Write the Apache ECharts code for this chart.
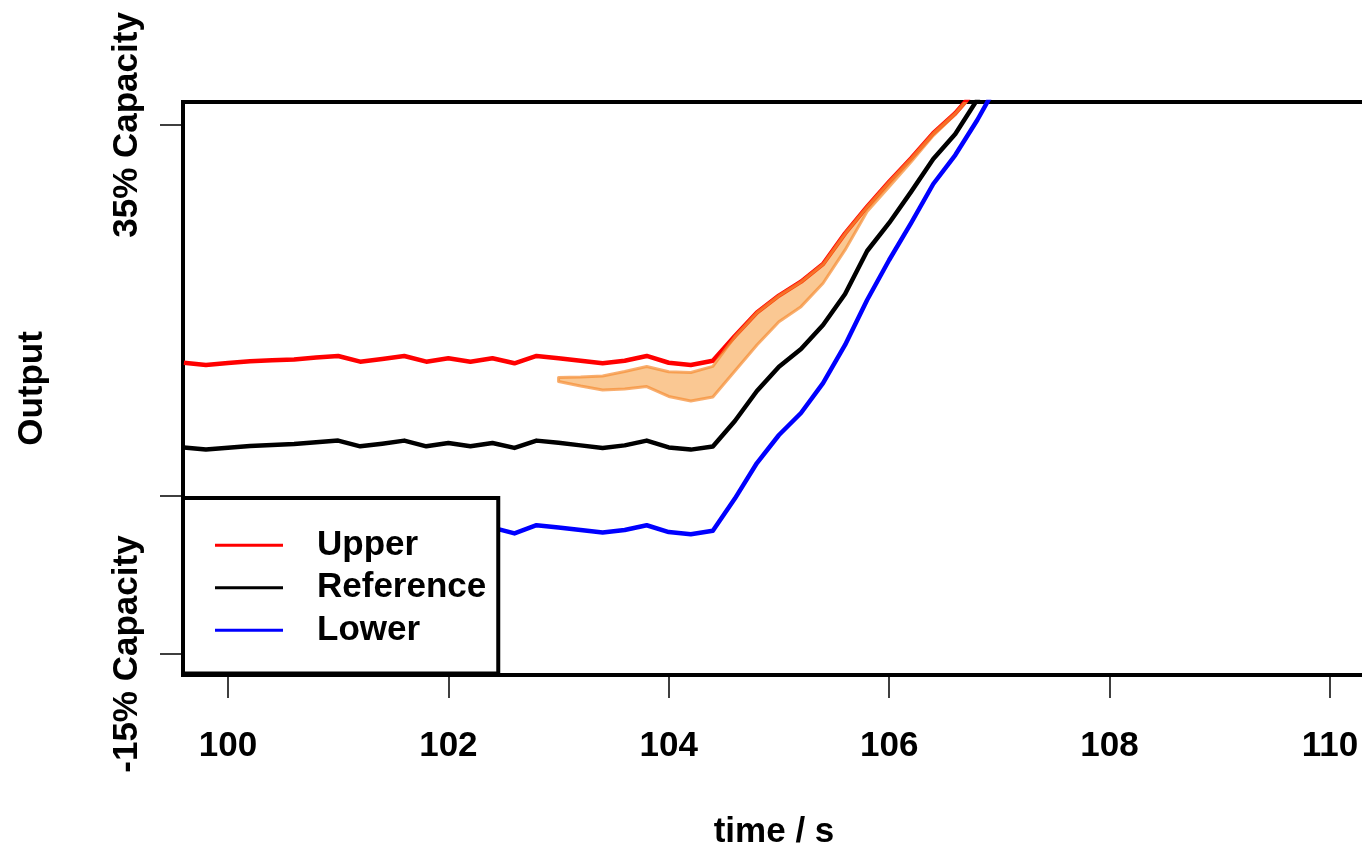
<!DOCTYPE html>
<html>
<head>
<meta charset="utf-8">
<title>Output vs time</title>
<script src="https://cdn.jsdelivr.net/npm/echarts@6/dist/echarts.min.js"></script>
<style>
  html, body { margin: 0; padding: 0; background: #fff; }
  #chart { width: 1362px; height: 848px; }
</style>
</head>
<body>
<div id="chart"></div>
<script>
// time stamps (s)
const time = [99.6, 99.8, 100.0, 100.2, 100.4, 100.6, 100.8, 101.0, 101.2, 101.4,
              101.6, 101.8, 102.0, 102.2, 102.4, 102.6, 102.8, 103.0, 103.2, 103.4,
              103.6, 103.8, 104.0, 104.2, 104.4, 104.6, 104.8, 105.0, 105.2, 105.4,
              105.6, 105.8, 106.0, 106.2, 106.4, 106.6, 106.8, 107.0];

// output in % of capacity
const upper = [12.53, 12.32, 12.50, 12.67, 12.76, 12.84, 13.02, 13.17, 12.63, 12.88,
               13.17, 12.63, 12.95, 12.63, 12.95, 12.48, 13.17, 12.96, 12.72, 12.48,
               12.72, 13.17, 12.53, 12.32, 12.72, 15.06, 17.28, 18.88, 20.19, 21.86,
               24.76, 27.28, 29.64, 31.85, 34.22, 36.11, 38.50, 41.50];
const reference = [4.53, 4.32, 4.49, 4.67, 4.76, 4.84, 5.02, 5.17, 4.63, 4.88,
                   5.17, 4.63, 4.95, 4.63, 4.95, 4.48, 5.17, 4.96, 4.72, 4.48,
                   4.72, 5.17, 4.53, 4.32, 4.62, 7.02, 9.86, 12.16, 13.83, 16.10,
                   19.03, 23.09, 25.74, 28.70, 31.79, 34.15, 37.40, 40.50];
const lower = [-3.47, -3.68, -3.51, -3.33, -3.24, -3.16, -2.98, -2.83, -3.37, -3.12,
               -2.83, -3.37, -3.05, -3.37, -3.05, -3.60, -2.82, -3.04, -3.28, -3.52,
               -3.28, -2.83, -3.47, -3.68, -3.35, -0.31, 3.05, 5.70, 7.78, 10.61,
               14.21, 18.46, 22.24, 25.74, 29.42, 32.16, 35.47, 39.20];

// shaded band
const bandTime = [103.0, 103.2, 103.4, 103.6, 103.8, 104.0, 104.2, 104.4, 104.6, 104.8,
                  105.0, 105.2, 105.4, 105.6, 105.8, 106.0, 106.2, 106.4, 106.6, 106.8];
const bandHigh = [11.13, 11.18, 11.28, 11.70, 12.17, 11.68, 11.61, 12.19, 15.00, 17.28,
                  18.88, 20.19, 21.86, 24.76, 27.28, 29.64, 31.85, 34.22, 36.11, 38.50];
const bandLow = [10.76, 10.33, 9.95, 10.05, 10.28, 9.34, 8.91, 9.29, 11.75, 14.21,
                 16.41, 17.83, 20.04, 23.19, 26.81, 29.17, 31.53, 34.00, 36.00, 38.40];

// axis ticks
const xTicks = [100, 102, 104, 106, 108, 110];
const yTicks = [-15, 0, 35];
const yLabels = [-15, 35];

const FONT = 'Liberation Sans, Arial, sans-serif';

function pairs(xs, ys) { return xs.map((x, i) => [x, ys[i]]); }

const chart = echarts.init(document.getElementById('chart'), null, { renderer: 'canvas' });

const lineSeries = (name, values, color) => ({
  name: name,
  type: 'line',
  data: pairs(time, values),
  symbol: 'none',
  clip: true,
  z: 2,
  itemStyle: { color: color },
  lineStyle: { color: color, width: 4.5, join: 'round' },
  emphasis: { disabled: true }
});

chart.setOption({
  animation: false,
  backgroundColor: '#fff',
  grid: {
    left: 183, top: 102, width: 1182, height: 573,
    outerBoundsMode: 'none',
    containLabel: false,
    show: true, borderColor: '#000', borderWidth: 4, backgroundColor: 'transparent'
  },
  xAxis: {
    type: 'value',
    min: 99.592, max: 110.318,
    name: 'time / s',
    nameLocation: 'middle',
    nameGap: 140,
    nameTextStyle: { fontFamily: FONT, fontWeight: 'bold', fontSize: 35, color: '#000' },
    axisLine: { show: false, onZero: false },
    splitLine: { show: false },
    axisTick: { show: true, length: 23, customValues: xTicks, lineStyle: { color: '#000', width: 1.5 } },
    axisLabel: { customValues: xTicks, margin: 54, fontFamily: FONT, fontWeight: 'bold', fontSize: 35, color: '#000' }
  },
  yAxis: {
    type: 'value',
    min: -16.98, max: 37.17,
    name: 'Output',
    nameLocation: 'middle',
    nameRotate: 90,
    nameGap: 133,
    nameTextStyle: { fontFamily: FONT, fontWeight: 'bold', fontSize: 35, color: '#000' },
    axisLine: { show: false, onZero: false },
    splitLine: { show: false },
    axisTick: { show: true, length: 23, customValues: yTicks, lineStyle: { color: '#000', width: 1.5 } },
    axisLabel: {
      customValues: yLabels, rotate: 90, margin: 38,
      fontFamily: FONT, fontWeight: 'bold', fontSize: 35, color: '#000',
      formatter: v => v + '% Capacity'
    }
  },
  legend: {
    data: ['Upper', 'Reference', 'Lower'],
    orient: 'vertical',
    left: 183, top: 498,
    icon: 'rect',
    itemWidth: 68, itemHeight: 3, itemGap: 0,
    padding: [26, 12, 22, 32],
    backgroundColor: '#fff',
    borderColor: '#000', borderWidth: 4, borderRadius: 0,
    selectedMode: false,
    z: 10,
    textStyle: {
      fontFamily: FONT, fontWeight: 'bold', fontSize: 35, color: '#000',
      lineHeight: 42.5, padding: [0, 0, 0, 29]
    }
  },
  series: [
    lineSeries('Upper', upper, '#ff0000'),
    lineSeries('Reference', reference, '#000000'),
    lineSeries('Lower', lower, '#0000ff'),
    {
      name: 'band',
      type: 'custom',
      clip: true,
      z: 3,
      data: bandTime.map((t, i) => [t, bandHigh[i], bandLow[i]]),
      encode: { x: 0, y: [1, 2] },
      renderItem: function (params, api) {
        if (params.dataIndexInside !== 0) return null;
        const pts = [];
        for (let i = 0; i < bandTime.length; i++) pts.push(api.coord([bandTime[i], bandHigh[i]]));
        for (let i = bandTime.length - 1; i >= 0; i--) pts.push(api.coord([bandTime[i], bandLow[i]]));
        return {
          type: 'polygon',
          shape: { points: pts },
          style: {
            fill: 'rgba(246,146,40,0.5)',
            stroke: 'rgba(245,140,50,0.7)',
            lineWidth: 3,
            lineJoin: 'round'
          }
        };
      }
    }
  ]
});
</script>
</body>
</html>
